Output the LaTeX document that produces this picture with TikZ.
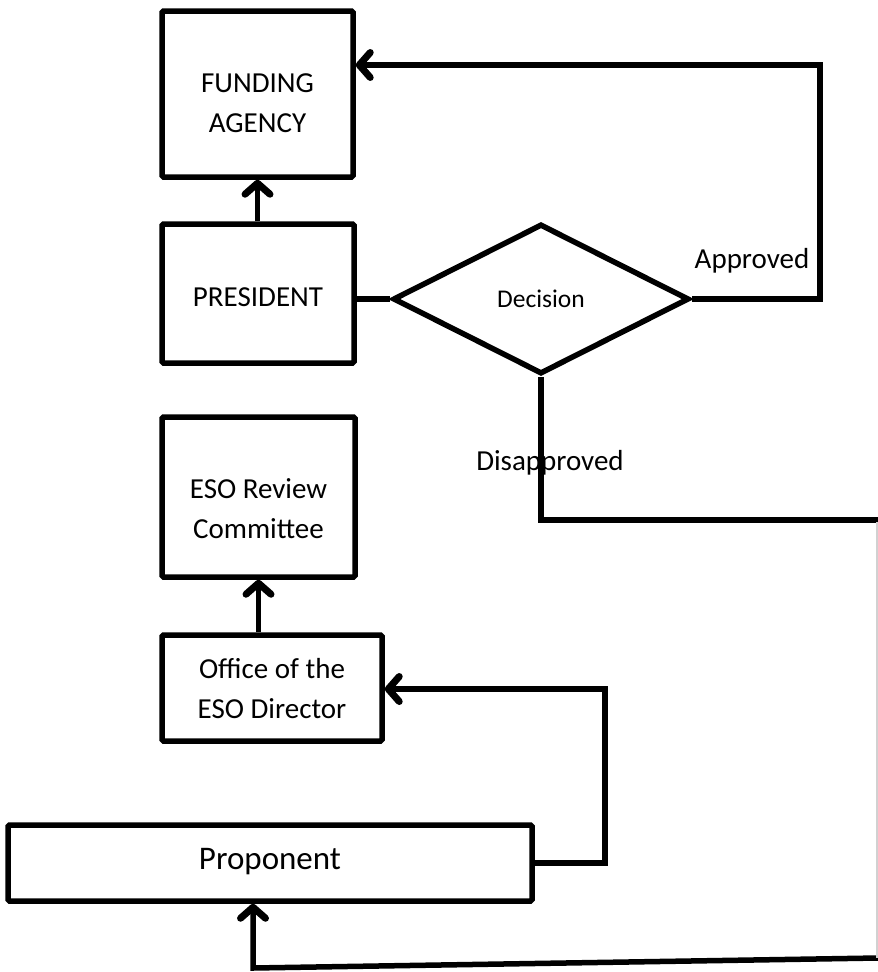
\documentclass[tikz,border=0pt]{standalone}
\usepackage{fontspec}
\setmainfont{Carlito}
\usetikzlibrary{arrows.meta,shapes.geometric}
\begin{document}
\begin{tikzpicture}[x=1pt,y=-1pt,
  box/.style={draw, line width=5.5pt, rounded corners=1.5pt, inner sep=0pt},
  txt/.style={align=center, inner sep=0pt, font=\fontsize{29}{40}\selectfont},
  conn/.style={line width=5.5pt, line join=miter},
  arr/.style={conn, -{Straight Barb[length=11pt,width=25pt,line width=7pt 0 1,line cap=round,line join=round]}},
  lbl/.style={font=\fontsize{29}{35}\selectfont, inner sep=0pt}]
\useasboundingbox[fill=white] (0,0) rectangle (878,972);
% boxes
\node[box, minimum width=191pt, minimum height=166pt] (fund) at (257.5,94) {};
\node[txt] (fundt) at (257.5,103) {FUNDING\\AGENCY};
\node[box, minimum width=192pt, minimum height=139pt] (pres) at (258,293.5) {};
\node[txt] (prest) at (258,297) {PRESIDENT};
\node[draw, diamond, line width=5.5pt, inner sep=0pt, aspect=1.97,
      minimum width=296pt, minimum height=150pt, font=\fontsize{25.5}{30}\selectfont] (dec) at (541,299) {Decision};
\node[box, minimum width=193pt, minimum height=160pt] (rev) at (258.5,497) {};
\node[txt] (revt) at (258.5,509) {ESO Review\\Committee};
\node[box, minimum width=220pt, minimum height=106pt] (off) at (272,688) {};
\node[txt] (offt) at (272,689) {Office of the\\ESO Director};
\node[box, minimum width=524pt, minimum height=76pt] (prop) at (270,863) {};
\node[txt, font=\fontsize{33}{38}\selectfont] (propt) at (270,862) {Proponent};
% labels
\node[lbl] (appr) at (752,261) {Approved};
\node[lbl] (disap) at (550,463) {Disapproved};
% helper coordinates
\coordinate (a1) at (820,299);
\coordinate (a2) at (820,65);
\coordinate (d1) at (541,520);
\coordinate (d2) at (878,520);
\coordinate (p1) at (605,863);
\coordinate (p2) at (605,689);
\coordinate (b1) at (878,958);
\coordinate (b2) at (253,968);
% connectors
\draw[arr] (pres.north -| fund.south) -- (fund.south);
\draw[conn] (pres.east |- dec.west) -- (dec.west);
\draw[arr] (dec.east) -- (a1) -- (a2) -- (fund.east |- a2);
\draw[conn] (dec.south) -- (d1) -- (d2);
\draw[arr] (rev.south |- off.north) -- (rev.south);
\draw[arr] (prop.east) -- (p1) -- (p2) -- (off.east |- p2);
\draw[arr] (b1) -- (b2) -- (b2 |- prop.south);
\draw[line width=2pt, black!18] (876.5,522) -- (876.5,958);
\end{tikzpicture}
\end{document}
